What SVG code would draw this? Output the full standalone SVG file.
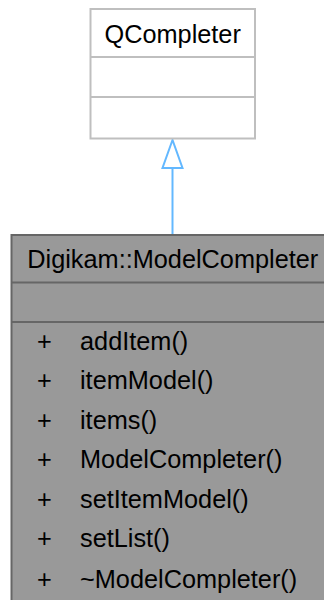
<svg xmlns="http://www.w3.org/2000/svg" width="324" height="600" viewBox="0 0 324 600">
<style>
text{font-family:"Liberation Sans",Arial,Helvetica,sans-serif;font-size:25.3px;fill:#000}
.c{text-anchor:middle}
.base rect{fill:#ffffff;stroke:#bfbfbf;stroke-width:2}
.base line{stroke:#bfbfbf;stroke-width:2}
.main rect{fill:#999999;stroke:#666666;stroke-width:2}
.main line{stroke:#666666;stroke-width:2}
.edge{stroke:#63b8ff;stroke-width:2;fill:none}
.head{stroke:#63b8ff;stroke-width:2;fill:#ffffff}
</style>
<rect width="324" height="600" fill="#ffffff"/>
<g id="connectors">
<line class="edge" x1="172.5" y1="168" x2="172.5" y2="235"/>
<polygon class="head" points="172.5,140 162.5,168 182.5,168"/>
</g>
<g id="QCompleter" class="base">
<rect x="90.5" y="9" width="164.5" height="129.5"/>
<line x1="90.5" y1="57" x2="255" y2="57"/>
<line x1="90.5" y1="97" x2="255" y2="97"/>
<text class="c" x="172.7" y="43">QCompleter</text>
</g>
<g id="ModelCompleter" class="main">
<rect x="11.5" y="235" width="330" height="380"/>
<line x1="11.5" y1="282.5" x2="330" y2="282.5"/>
<line x1="11.5" y1="322" x2="330" y2="322"/>
<text class="c" x="172.8" y="268">Digikam::ModelCompleter</text>
<text x="37" y="350">+</text><text x="80" y="350">addItem()</text>
<text x="37" y="389">+</text><text x="80" y="389">itemModel()</text>
<text x="37" y="429">+</text><text x="80" y="429">items()</text>
<text x="37" y="468">+</text><text x="80" y="468">ModelCompleter()</text>
<text x="37" y="508">+</text><text x="80" y="508">setItemModel()</text>
<text x="37" y="547">+</text><text x="80" y="547">setList()</text>
<text x="37" y="588">+</text><text x="80" y="588">~ModelCompleter()</text>
</g>
</svg>
